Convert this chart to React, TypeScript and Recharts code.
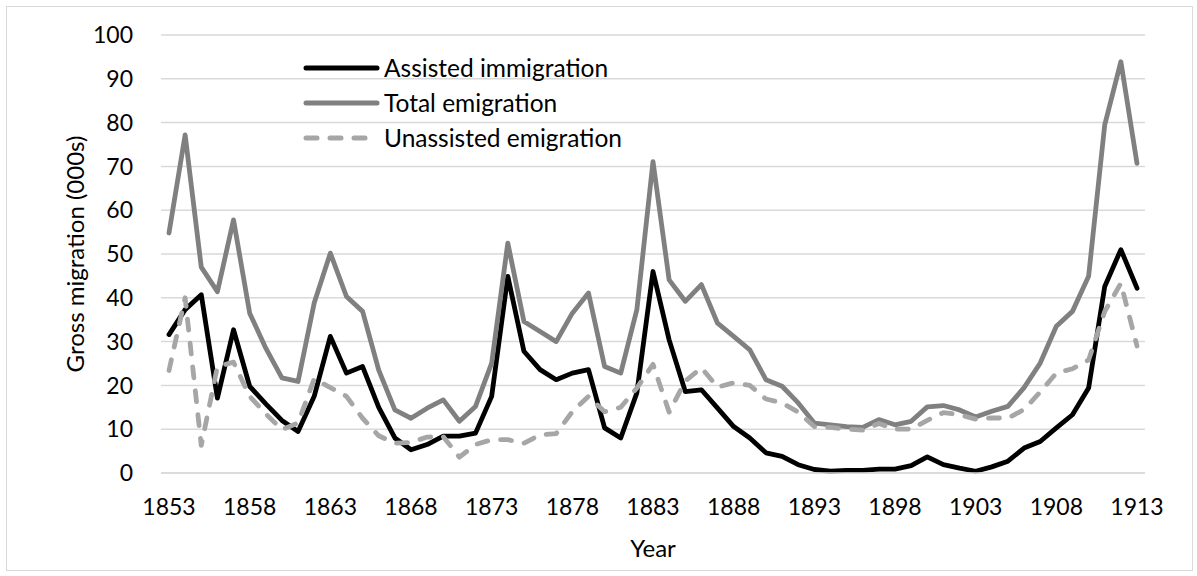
import { LineChart, Line, XAxis, YAxis, CartesianGrid, Legend } from 'recharts'

const years = [
  1853, 1854, 1855, 1856, 1857, 1858, 1859, 1860, 1861, 1862,
  1863, 1864, 1865, 1866, 1867, 1868, 1869, 1870, 1871, 1872,
  1873, 1874, 1875, 1876, 1877, 1878, 1879, 1880, 1881, 1882,
  1883, 1884, 1885, 1886, 1887, 1888, 1889, 1890, 1891, 1892,
  1893, 1894, 1895, 1896, 1897, 1898, 1899, 1900, 1901, 1902,
  1903, 1904, 1905, 1906, 1907, 1908, 1909, 1910, 1911, 1912,
  1913,
]

// thousands
const assisted = [
  31.6, 37.3, 40.7, 17.1, 32.7, 19.8, 15.8, 12.0, 9.5, 17.5,
  31.2, 22.8, 24.3, 15.0, 8.0, 5.3, 6.5, 8.4, 8.4, 9.1,
  17.5, 44.9, 27.8, 23.6, 21.3, 22.8, 23.6, 10.3, 8.0, 18.3,
  46.0, 30.4, 18.6, 19.0, 14.8, 10.6, 8.0, 4.6, 3.8, 1.9,
  0.8, 0.4, 0.6, 0.6, 0.9, 0.9, 1.7, 3.7, 1.9, 1.1,
  0.4, 1.4, 2.7, 5.7, 7.2, 10.3, 13.3, 19.4, 42.6, 51.0,
  42.2,
]

const total = [
  54.8, 77.2, 47.0, 41.4, 57.8, 36.5, 28.5, 21.7, 20.9, 38.8,
  50.2, 40.3, 36.9, 23.5, 14.4, 12.5, 14.8, 16.7, 11.8, 15.2,
  25.1, 52.5, 34.6, 32.3, 30.0, 36.5, 41.1, 24.3, 22.8, 37.3,
  71.1, 44.1, 39.2, 43.0, 34.2, 31.2, 28.1, 21.3, 19.8, 16.0,
  11.4, 11.0, 10.6, 10.4, 12.2, 11.0, 11.8, 15.1, 15.4, 14.4,
  12.8, 14.1, 15.2, 19.5, 25.1, 33.5, 36.9, 44.9, 79.5, 93.9,
  70.7,
]

const unassisted = [
  23.4, 40.0, 6.3, 24.3, 25.3, 17.5, 13.5, 9.9, 11.4, 21.5,
  19.5, 17.5, 12.5, 8.5, 6.8, 7.0, 8.2, 8.3, 3.6, 6.5,
  7.6, 7.6, 6.8, 8.7, 9.0, 14.0, 17.5, 14.0, 15.0, 19.4,
  24.8, 13.9, 21.0, 24.0, 19.6, 20.6, 20.0, 16.9, 16.0, 13.9,
  10.6, 10.4, 10.0, 9.8, 11.3, 10.0, 10.0, 12.0, 13.8, 13.3,
  12.3, 12.6, 12.5, 14.5, 18.5, 22.8, 23.8, 25.8, 36.9, 43.3,
  29.0,
]

const yearTicks = [1853, 1858, 1863, 1868, 1873, 1878, 1883, 1888, 1893, 1898, 1903, 1908, 1913]
const valueTicks = [0, 10, 20, 30, 40, 50, 60, 70, 80, 90, 100]

const seriesInfo = [
  { key: 'assisted', name: 'Assisted immigration', color: '#000000', dash: undefined },
  { key: 'total', name: 'Total emigration', color: '#808080', dash: undefined },
  { key: 'unassisted', name: 'Unassisted emigration', color: '#a6a6a6', dash: '11 13' },
]

const data = years.map((year, i) => ({
  year,
  assisted: assisted[i],
  total: total[i],
  unassisted: unassisted[i],
}))

const FONT = 'Lato, "Open Sans", sans-serif'
const TEXT = '#000000'

function LegendBox() {
  return (
    <div style={{ fontFamily: FONT, fontSize: 24.5, color: TEXT }}>
      {seriesInfo.map((s) => (
        <div key={s.key} style={{ display: 'flex', alignItems: 'center', height: 35 }}>
          <svg width={78} height={12} style={{ marginRight: 3 }}>
            <line
              x1={3}
              y1={6}
              x2={74}
              y2={6}
              stroke={s.color}
              strokeWidth={5}
              strokeLinecap="round"
              strokeDasharray={s.dash}
            />
          </svg>
          <span style={{ lineHeight: '35px' }}>{s.name}</span>
        </div>
      ))}
    </div>
  )
}

function YTitle(props: any) {
  const { y, height } = props.viewBox
  const cy = y + height / 2
  return (
    <text
      x={74}
      y={cy}
      transform={`rotate(-90 74 ${cy})`}
      textAnchor="middle"
      dominantBaseline="central"
      fill={TEXT}
      fontSize={24}
      fontFamily={FONT}
    >
      Gross migration (000s)
    </text>
  )
}

function XTitle(props: any) {
  const { x, width } = props.viewBox
  return (
    <text
      x={x + width / 2}
      y={547}
      textAnchor="middle"
      dominantBaseline="central"
      fill={TEXT}
      fontSize={24}
      fontFamily={FONT}
    >
      Year
    </text>
  )
}

export default function App() {
  return (
    <div style={{ position: 'absolute', left: 0, top: 0, width: 1197, height: 576, background: '#fff' }}>
      <div
        style={{
          position: 'absolute',
          left: 6,
          top: 6,
          width: 1185,
          height: 563,
          border: '1px solid #d9d9d9',
        }}
      />
      <div style={{ position: 'absolute', left: 0, top: 0 }}>
        <LineChart
          width={1197}
          height={576}
          data={data}
          margin={{ top: 35, right: 52, bottom: 33, left: 1 }}
        >
          <CartesianGrid vertical={false} stroke="#d9d9d9" strokeWidth={1.5} />
          <XAxis
            dataKey="year"
            ticks={yearTicks}
            interval={0}
            height={70}
            padding={{ left: 8, right: 8 }}
            axisLine={{ stroke: '#d9d9d9', strokeWidth: 1.5 }}
            tickLine={false}
            tickSize={0}
            tickMargin={26}
            tick={{ fill: TEXT, fontSize: 23, fontFamily: FONT }}
            label={<XTitle />}
          />
          <YAxis
            width={160}
            domain={[0, 100]}
            ticks={valueTicks}
            interval={0}
            axisLine={false}
            tickLine={false}
            tickSize={0}
            tickMargin={28}
            tick={{ fill: TEXT, fontSize: 23, fontFamily: FONT }}
            label={<YTitle />}
          />
          <Legend
            layout="vertical"
            align="center"
            verticalAlign="middle"
            content={<LegendBox />}
            wrapperStyle={{ left: 303, top: 50, width: 'auto', height: 'auto' }}
          />
          {seriesInfo.map((s) => (
            <Line
              key={s.key}
              type="linear"
              dataKey={s.key}
              name={s.name}
              stroke={s.color}
              strokeWidth={4.8}
              strokeDasharray={s.dash}
              strokeLinecap="round"
              strokeLinejoin="round"
              dot={false}
              activeDot={false}
              isAnimationActive={false}
            />
          ))}
        </LineChart>
      </div>
    </div>
  )
}
